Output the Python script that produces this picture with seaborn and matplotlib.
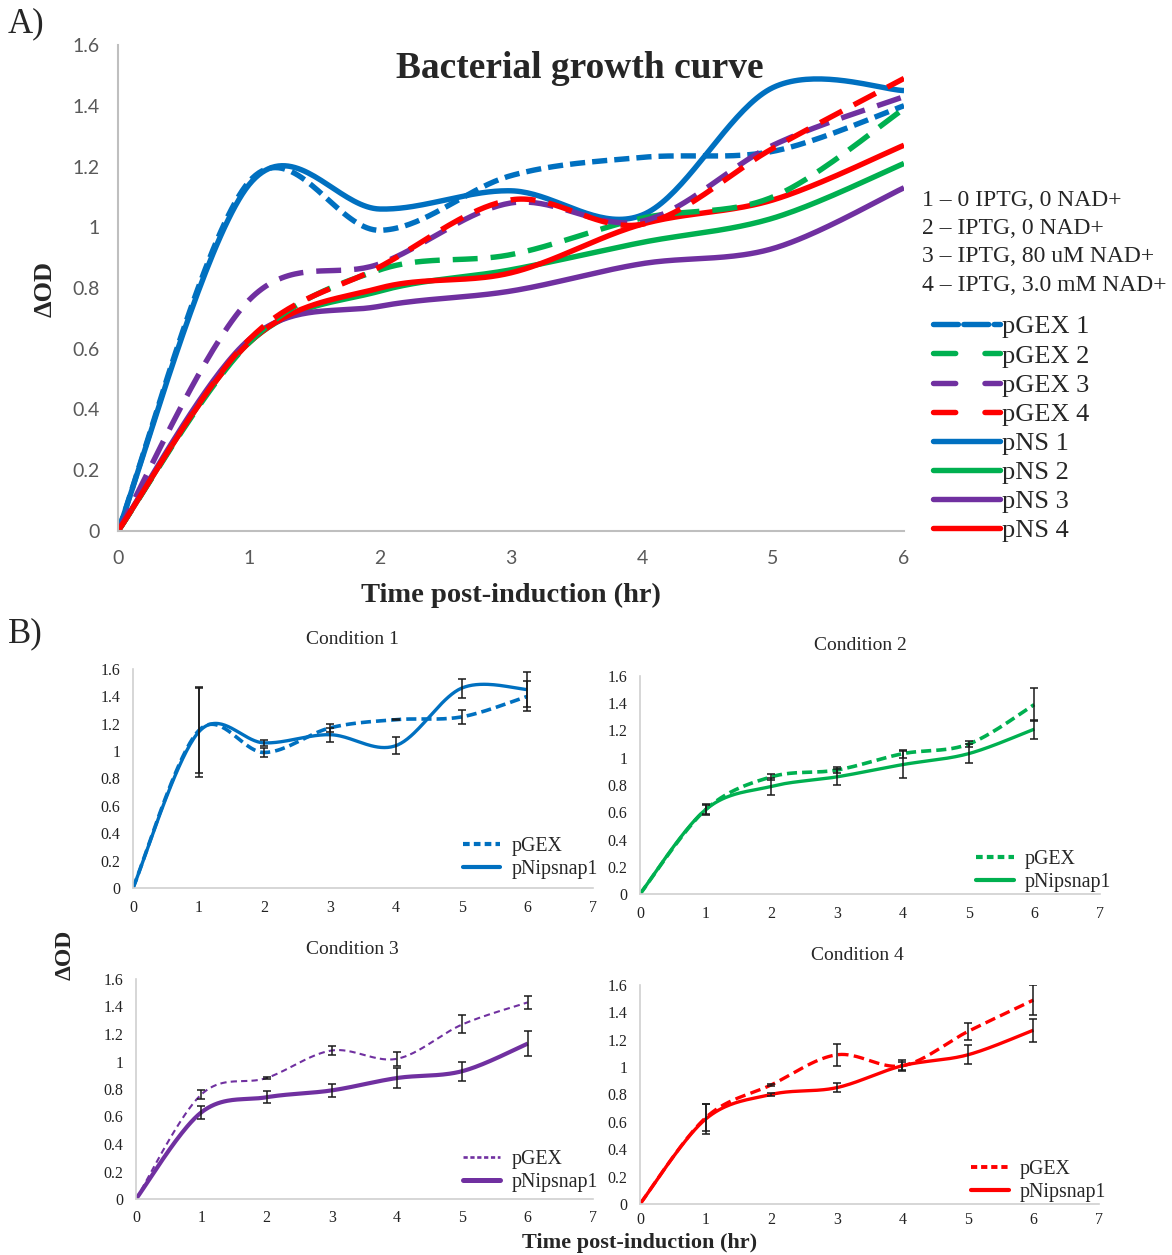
import numpy as np
import pandas as pd
import matplotlib
matplotlib.use("Agg")
import matplotlib.pyplot as plt
from matplotlib.lines import Line2D
import seaborn as sns

# ---------------- data ----------------
hours = [0, 1, 2, 3, 4, 5, 6]

pgex1 = [0, 1.15, 0.99, 1.17, 1.23, 1.25, 1.40]
pns1 = [0, 1.14, 1.06, 1.12, 1.04, 1.46, 1.45]
pgex2 = [0, 0.62, 0.86, 0.91, 1.03, 1.10, 1.39]
pns2 = [0, 0.62, 0.79, 0.86, 0.95, 1.03, 1.21]
pgex3 = [0, 0.76, 0.88, 1.08, 1.02, 1.27, 1.43]
pns3 = [0, 0.63, 0.74, 0.79, 0.88, 0.93, 1.13]
pgex4 = [0, 0.63, 0.87, 1.09, 1.01, 1.26, 1.49]
pns4 = [0, 0.62, 0.80, 0.85, 1.01, 1.09, 1.27]

err_pgex1 = [0, 0.31, 0.03, 0.03, 0.005, 0.05, 0.11]
err_pns1 = [0, 0.33, 0.02, 0.05, 0.06, 0.07, 0.13]
err_pgex2 = [0, 0.03, 0.02, 0.02, 0.03, 0.02, 0.12]
err_pns2 = [0, 0.04, 0.06, 0.06, 0.10, 0.07, 0.07]
err_pgex3 = [0, 0.03, 0.01, 0.03, 0.05, 0.065, 0.045]
err_pns3 = [0, 0.05, 0.045, 0.05, 0.07, 0.07, 0.09]
err_pgex4 = [0, 0.10, 0.01, 0.08, 0.04, 0.065, 0.11]
err_pns4 = [0, 0.11, 0.01, 0.035, 0.03, 0.07, 0.085]

condition_notes = ["1 \u2013 0 IPTG, 0 NAD+", "2 \u2013 IPTG, 0 NAD+",
                   "3 \u2013 IPTG, 80 uM NAD+", "4 \u2013 IPTG, 3.0 mM NAD+"]
main_labels = ["pGEX 1", "pGEX 2", "pGEX 3", "pGEX 4", "pNS 1", "pNS 2", "pNS 3", "pNS 4"]
cond_titles = ["Condition 1", "Condition 2", "Condition 3", "Condition 4"]
sub_labels = ["pGEX", "pNipsnap1"]
main_yticks = [0, 0.2, 0.4, 0.6, 0.8, 1.0, 1.2, 1.4, 1.6]
main_yticklabels = ["0", "0.2", "0.4", "0.6", "0.8", "1", "1.2", "1.4", "1.6"]
main_xticks = [0, 1, 2, 3, 4, 5, 6]
sub_xticks = [0, 1, 2, 3, 4, 5, 6, 7]

colors = ["#0070C0", "#00B050", "#7030A0", "#FF0000"]

# ---------------- style ----------------
sns.set_theme(style="white")
SERIF = ["Liberation Serif", "DejaVu Serif"]
plt.rcParams["font.family"] = SERIF
plt.rcParams["mathtext.fontset"] = "stix"


def smooth(xv, yv, n=40):
    """Excel-like smoothed line (Catmull-Rom / Bezier) for rendering."""
    x = np.asarray(xv, float)
    y = np.asarray(yv, float)
    P = np.column_stack([x, y])
    P = np.vstack([P[0], P, P[-1]])
    out = []
    for i in range(1, len(P) - 2):
        p0, p1, p2, p3 = P[i - 1], P[i], P[i + 1], P[i + 2]
        c1 = p1 + (p2 - p0) / 6.0
        c2 = p2 - (p3 - p1) / 6.0
        t = np.linspace(0, 1, n, endpoint=(i == len(P) - 3))[:, None]
        seg = ((1 - t) ** 3) * p1 + 3 * ((1 - t) ** 2) * t * c1 + 3 * (1 - t) * t ** 2 * c2 + t ** 3 * p2
        out.append(seg)
    s = np.vstack(out)
    return s[:, 0], s[:, 1]


def draw(ax, yv, color, lw, ls, cap="butt"):
    sx, sy = smooth(hours, yv)
    df = pd.DataFrame({"x": sx, "y": sy})
    sns.lineplot(data=df, x="x", y="y", ax=ax, color=color, linewidth=lw,
                 linestyle=ls, estimator=None, sort=False,
                 dash_capstyle=cap, solid_capstyle="butt")


fig = plt.figure(figsize=(11.72, 12.55), dpi=100)

# ---------------- panel A ----------------
axA = fig.add_axes([118 / 1172, 1 - 531 / 1255, 786 / 1172, 486 / 1255])
gex = [pgex1, pgex2, pgex3, pgex4]
nss = [pns1, pns2, pns3, pns4]
LW = 3.9
dash_short = (0, (2.8, 1.3))
dash_long = (0, (4.6, 2.4))
for i in range(4):
    draw(axA, nss[i], colors[i], LW, "-")
for i in range(4):
    draw(axA, gex[i], colors[i], LW, dash_short if i == 0 else dash_long)

axA.set_xlim(0, 6)
axA.set_ylim(0, 1.6)
axA.set_xticks(main_xticks)
axA.set_xticklabels([str(v) for v in main_xticks])
axA.set_yticks(main_yticks)
axA.set_yticklabels(main_yticklabels)
axA.tick_params(length=0, labelsize=14, labelcolor="#595959")
axA.tick_params(axis="x", pad=14)
axA.tick_params(axis="y", pad=13)
for lab in axA.get_xticklabels() + axA.get_yticklabels():
    lab.set_fontfamily(["Lato", "DejaVu Sans"])
for s in ["top", "right"]:
    axA.spines[s].set_visible(False)
for s in ["left", "bottom"]:
    axA.spines[s].set_color("#BFBFBF")
    axA.spines[s].set_linewidth(1.5)
axA.set_xlabel("")
axA.set_ylabel("")
axA.grid(False)

fig.text(580 / 1172, 1 - 68 / 1255, "Bacterial growth curve", ha="center", va="center",
         fontsize=27, fontweight="bold")
fig.text(511 / 1172, 1 - 595 / 1255, "Time post-induction (hr)", ha="center", va="center",
         fontsize=20.5, fontweight="bold")
fig.text(45 / 1172, 1 - 289 / 1255, "\u0394OD", ha="center", va="center",
         fontsize=19, fontweight="bold", rotation=90)
fig.text(8 / 1172, 1 - 24 / 1255, "A)", ha="left", va="center", fontsize=25)
fig.text(8 / 1172, 1 - 634 / 1255, "B)", ha="left", va="center", fontsize=25)

for k, note in enumerate(condition_notes):
    fig.text(922 / 1172, 1 - (200 + 28.4 * k) / 1255, note, ha="left", va="center", fontsize=17)

handles = []
for i in range(4):
    if i == 0:
        handles.append(Line2D([], [], color=colors[i], lw=LW, linestyle=(0, (4.6, 1.0)),
                              dash_capstyle="round"))
    else:
        handles.append(Line2D([], [], color=colors[i], lw=LW, linestyle=(0, (4.1, 5.4)),
                              dash_capstyle="round"))
for i in range(4):
    handles.append(Line2D([], [], color=colors[i], lw=LW, linestyle="-", solid_capstyle="round"))
fig.legend(handles, main_labels, loc="upper left", bbox_to_anchor=(933 / 1172, 1 - 315 / 1255),
           frameon=False, fontsize=19, handlelength=2.55, handletextpad=0.05,
           labelspacing=0.215, borderpad=0, borderaxespad=0)

# ---------------- panel B ----------------
boxes = [
    [133, 593, 669, 888],
    [640, 1100, 676, 894],
    [136, 593, 979, 1199],
    [640, 1099, 985, 1204],
]
title_pos = [(352, 640), (860, 646), (352, 950), (857, 956)]
errs_g = [err_pgex1, err_pgex2, err_pgex3, err_pgex4]
errs_n = [err_pns1, err_pns2, err_pns3, err_pns4]
sub_dash = [(0, (2.8, 1.4)), (0, (2.8, 1.4)), (0, (3.0, 2.0)), (0, (3.2, 1.6))]
sub_dash_lw = [2.6, 2.6, 1.5, 2.4]
sub_solid_lw = [2.4, 2.4, 3.0, 2.4]
leg_anchor = [(1.01, 0.04), (1.025, 0.01), (1.01, 0.03), (1.015, 0.01)]
xpads = [9, 9, 8, 6]

for i in range(4):
    l, r, t, b = boxes[i]
    ax = fig.add_axes([l / 1172, 1 - b / 1255, (r - l) / 1172, (b - t) / 1255])
    draw(ax, gex[i], colors[i], sub_dash_lw[i], sub_dash[i])
    draw(ax, nss[i], colors[i], sub_solid_lw[i], "-")
    for yv, ev in [(gex[i], errs_g[i]), (nss[i], errs_n[i])]:
        xs = [h for h, e in zip(hours, ev) if e > 0]
        ys = [v for v, e in zip(yv, ev) if e > 0]
        es = [e for e in ev if e > 0]
        ax.errorbar(xs, ys, yerr=es, fmt="none", ecolor="#1a1a1a", elinewidth=1.1,
                    capsize=2.6, capthick=1.1, zorder=5)
    ax.set_xlim(0, 7)
    ax.set_ylim(0, 1.6)
    ax.set_xticks(sub_xticks)
    ax.set_xticklabels([str(v) for v in sub_xticks])
    ax.set_yticks(main_yticks)
    ax.set_yticklabels(main_yticklabels)
    ax.tick_params(length=0, labelsize=11.5, labelcolor="#222222")
    ax.tick_params(axis="x", pad=xpads[i])
    ax.tick_params(axis="y", pad=9)
    for s in ["top", "right"]:
        ax.spines[s].set_visible(False)
    for s in ["left", "bottom"]:
        ax.spines[s].set_color("#D0D0D0")
        ax.spines[s].set_linewidth(1.2)
    ax.set_xlabel("")
    ax.set_ylabel("")
    ax.grid(False)
    h = [Line2D([], [], color=colors[i], lw=sub_dash_lw[i] + 0.4, linestyle=(0, (1.6, 1.0))),
         Line2D([], [], color=colors[i], lw=sub_solid_lw[i] + 0.6, linestyle="-")]
    ax.legend(h, sub_labels, loc="lower right", bbox_to_anchor=leg_anchor[i], frameon=False,
              fontsize=14.3, handlelength=1.9, handletextpad=0.55, labelspacing=0.2,
              borderpad=0, borderaxespad=0)
    tx, ty = title_pos[i]
    fig.text(tx / 1172, 1 - ty / 1255, cond_titles[i], ha="center", va="center", fontsize=14)

fig.text(65 / 1172, 1 - 955 / 1255, "\u0394OD", ha="center", va="center",
         fontsize=17, fontweight="bold", rotation=90)
fig.text(640 / 1172, 1 - 1243 / 1255, "Time post-induction (hr)", ha="center", va="center",
         fontsize=16, fontweight="bold")

fig.savefig("out.png", dpi=100)
